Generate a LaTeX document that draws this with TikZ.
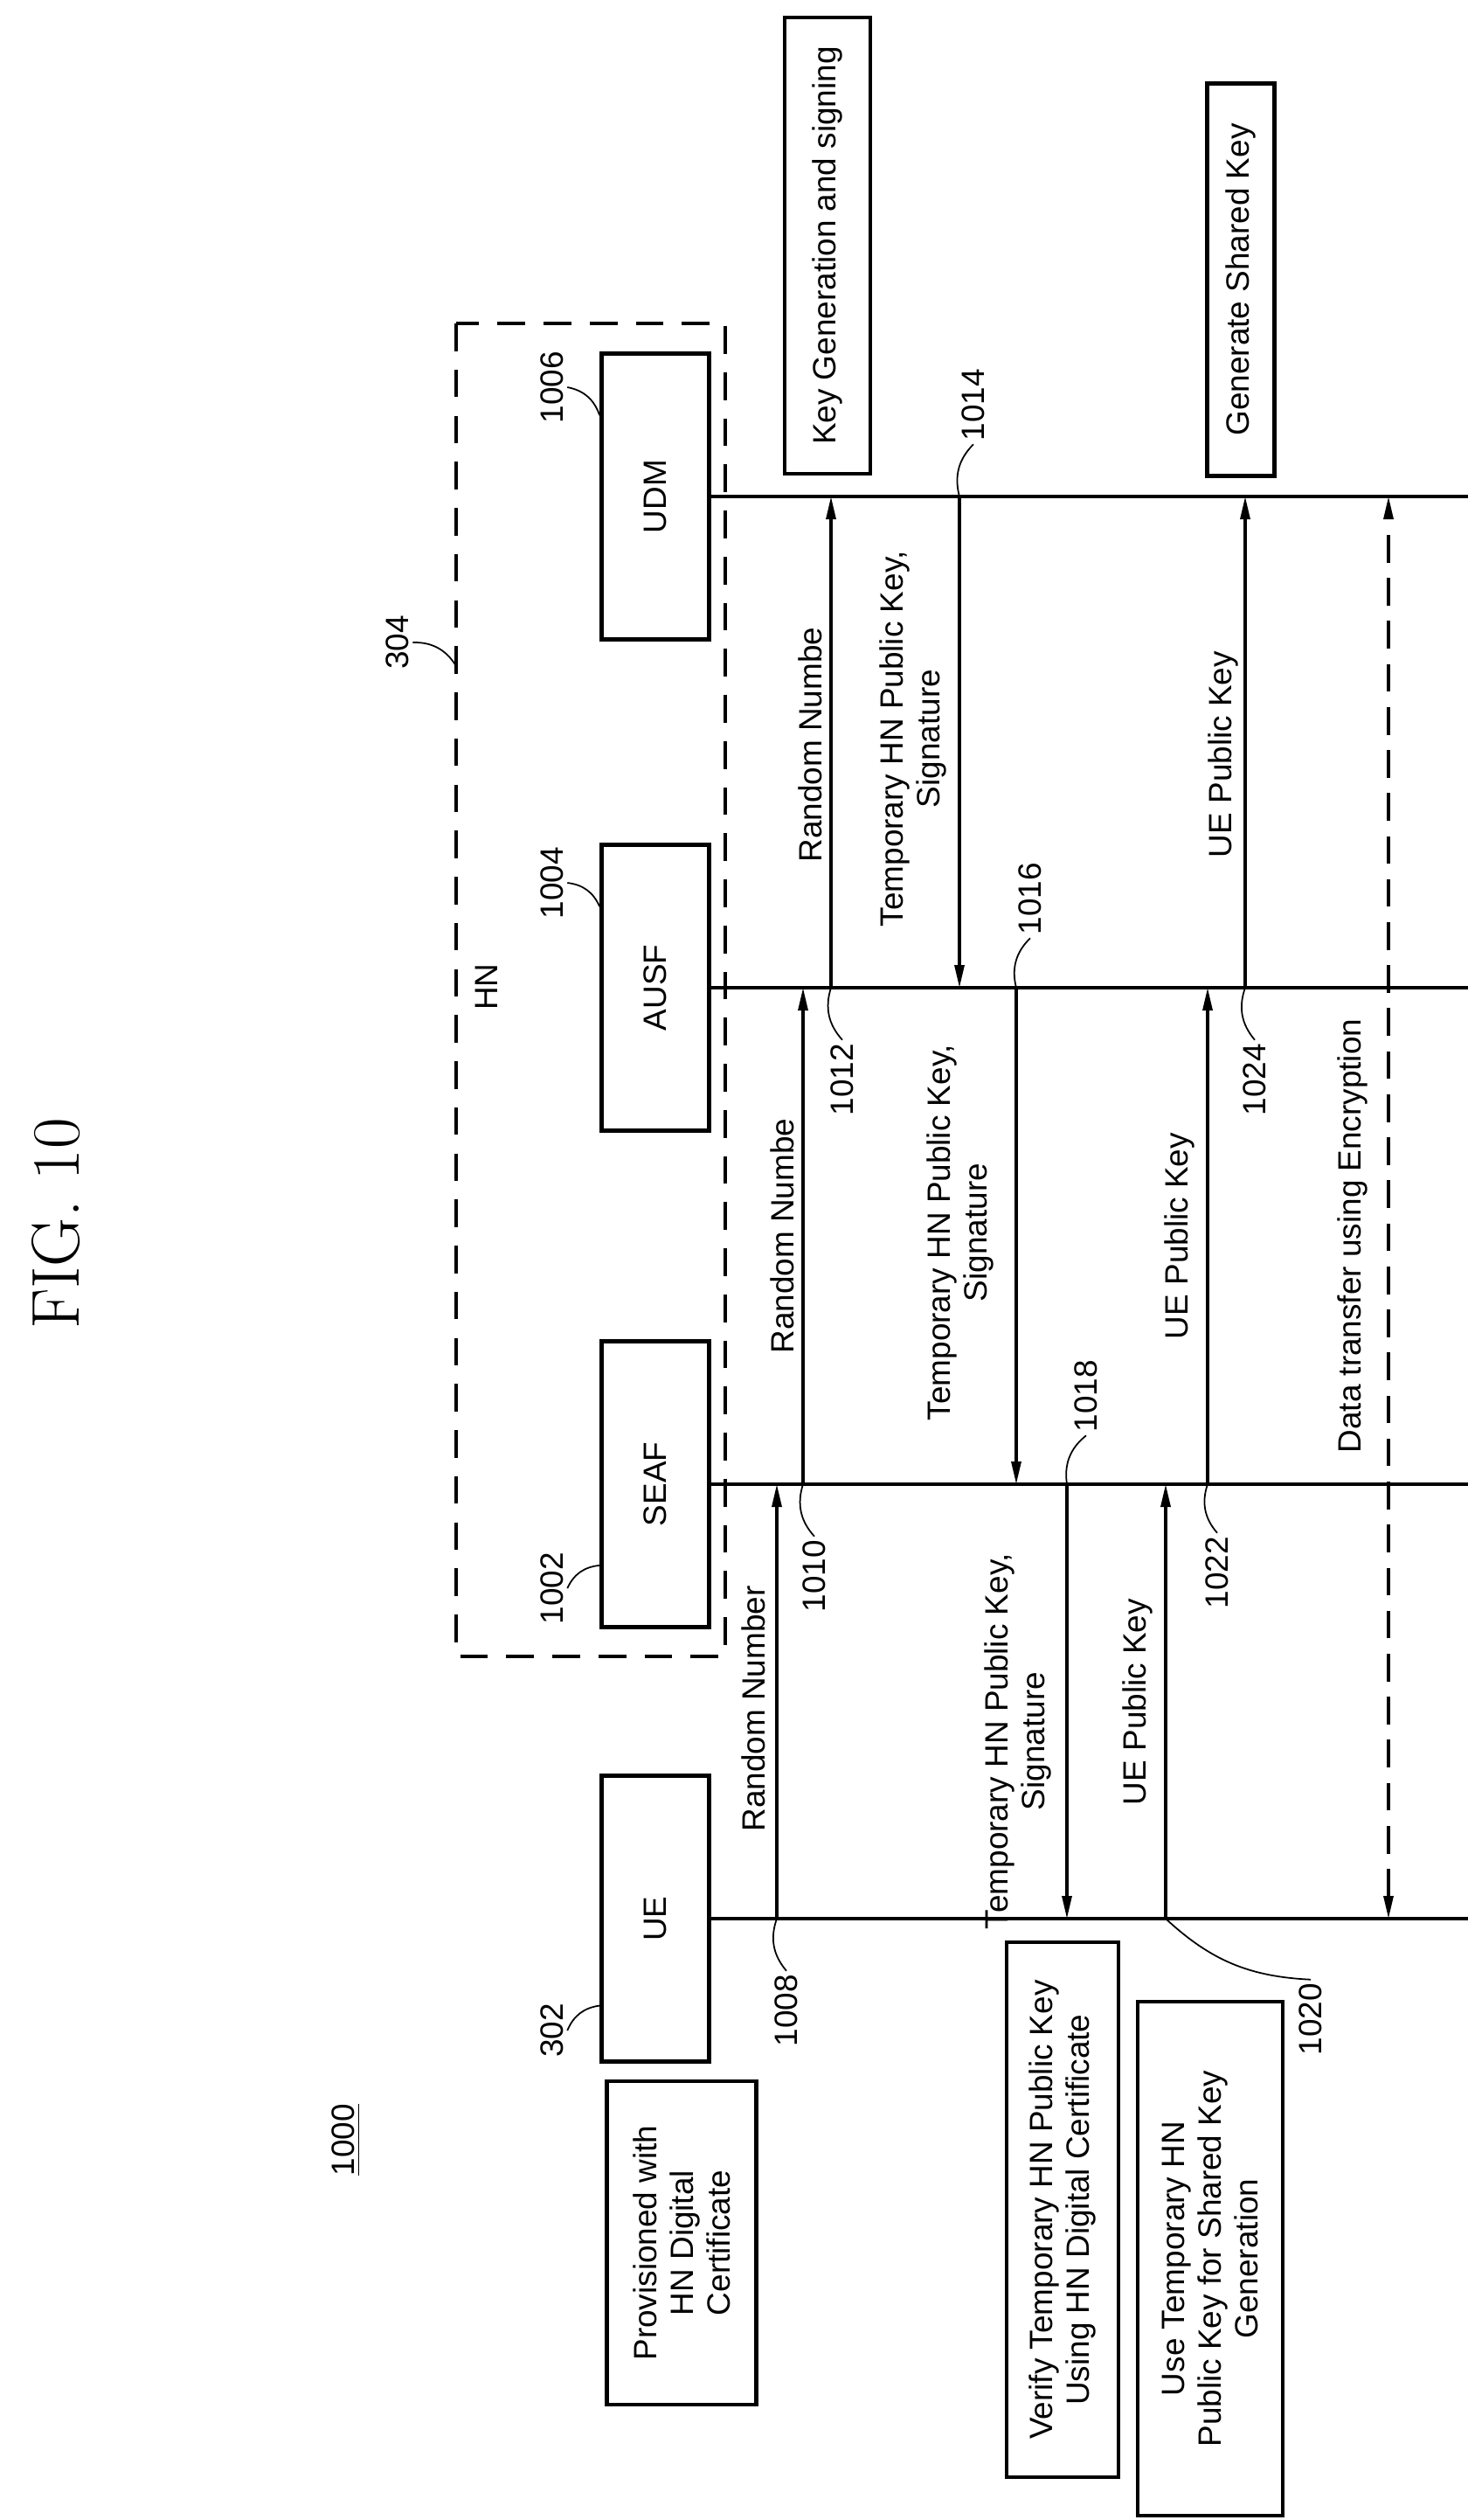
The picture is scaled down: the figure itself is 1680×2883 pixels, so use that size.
\documentclass[tikz,border=0pt]{standalone}
\usepackage{fontspec}
\setsansfont{Liberation Sans}
\usetikzlibrary{arrows.meta,calc}
\begin{document}
\begin{tikzpicture}[
	x=0.01cm, y=-0.01cm,
	every node/.style={font=\sffamily\fontsize{10.5}{12}\selectfont},
	cell/.style={
		draw,
		line width=1.3pt,
		rotate=90,
		minimum width=3.27cm,
		minimum height=1.23cm,
		inner sep=0pt
	},
	note/.style={% boxes with notes beside the lifelines
		draw,
		line width=1.3pt,
		rotate=90,
		align=center,
		inner sep=0pt
	},
	lbl/.style={rotate=90, align=center, inner sep=1pt},
	life/.style={line width=0.9pt},
	msg/.style={line width=0.9pt, -{Triangle[length=0.26cm,width=0.11cm]}},
	lead/.style={line width=0.5pt},
]
	\useasboundingbox (0,0) rectangle (1680,2883);

	\node [rotate=90, font=\rmfamily\fontsize{22}{24}\selectfont] (fig) at (64,1400) {FIG. 10};
	\node [lbl] (n1000) at (396,2448) {\underline{1000}};

	% HN
	\draw [line width=0.9pt, dash pattern=on 9pt off 6pt] (522,370) rectangle (830,1895);
	\coordinate (hnl) at (522,762);
	\node [lbl] (hn) at (557,1129) {HN};
	\node [lbl] (n304) at (455,735) {304};

	\node [cell] (ue) at (750,2195) {UE};
	\node [cell] (seaf) at (750,1698) {SEAF};
	\node [cell] (ausf) at (750,1130) {AUSF};
	\node [cell] (udm) at (750,568) {UDM};

	\node [lbl] (n302) at (632,2323) {302};
	\node [lbl] (n1002) at (632,1817) {1002};
	\node [lbl] (n1004) at (632,1010) {1004};
	\node [lbl] (n1006) at (632,443) {1006};

	\draw [lead] (n304.south) to[bend left=30] (hnl);
	\draw [lead] (n302.south) to[bend left=30] ($(ue.north west)!0.2!(ue.north east)$);
	\draw [lead] (n1002.south) to[bend left=30] ($(seaf.north west)!0.22!(seaf.north east)$);
	\draw [lead] (n1004.south) to[bend left=30] ($(ausf.north west)!0.78!(ausf.north east)$);
	\draw [lead] (n1006.south) to[bend left=30] ($(udm.north west)!0.78!(udm.north east)$);

	% lifelines
	\coordinate (edge) at (1680,0);
	\draw [life] (ue.south) -- (ue.south -| edge);
	\draw [life] (seaf.south) -- (seaf.south -| edge);
	\draw [life] (ausf.south) -- (ausf.south -| edge);
	\draw [life] (udm.south) -- (udm.south -| edge);

	\node [note, minimum width=3.70cm, minimum height=1.71cm] (prov) at (780,2566)
		{Provisioned with\\HN Digital\\Certificate};
	\node [note, minimum width=6.12cm, minimum height=1.28cm] (verify) at (1216,2528)
		{Verify Temporary HN Public Key\\Using HN Digital Certificate};
	\node [note, minimum width=5.88cm, minimum height=1.66cm] (use) at (1385,2584)
		{Use Temporary HN\\Public Key for Shared Key\\Generation};
	\node [note, minimum width=5.22cm, minimum height=0.98cm] (keygen) at (947,281)
		{Key Generation and signing};
	\node [note, minimum width=4.49cm, minimum height=0.77cm] (shared) at (1420,320)
		{Generate Shared Key};

	% messages
	\coordinate (a1) at (889,0);
	\coordinate (a2) at (919,0);
	\coordinate (a3) at (951,0);
	\coordinate (b1) at (1098,0);
	\coordinate (b2) at (1163,0);
	\coordinate (b3) at (1221,0);
	\coordinate (c1) at (1334,0);
	\coordinate (c2) at (1382,0);
	\coordinate (c3) at (1425,0);
	\coordinate (d) at (1589,0);

	\draw [msg] (a1 |- ue) -- (a1 |- seaf);
	\draw [msg] (a2 |- seaf) -- (a2 |- ausf);
	\draw [msg] (a3 |- ausf) -- (a3 |- udm);
	\draw [msg] (b1 |- udm) -- (b1 |- ausf);
	\draw [msg] (b2 |- ausf) -- (b2 |- seaf);
	\draw [msg] (b3 |- seaf) -- (b3 |- ue);
	\draw [msg] (c1 |- ue) -- (c1 |- seaf);
	\draw [msg] (c2 |- seaf) -- (c2 |- ausf);
	\draw [msg] (c3 |- ausf) -- (c3 |- udm);
	\draw [msg, {Triangle[length=0.26cm,width=0.11cm]}-{Triangle[length=0.26cm,width=0.11cm]},
		dash pattern=on 9pt off 5pt] (d |- ue) -- (d |- udm);

	\node [lbl] (rn1) at (862,1955) {Random Number};
	\node [lbl] (rn2) at (895,1414) {Random Numbe};
	\node [lbl] (rn3) at (927,852) {Random Numbe};
	\node [lbl] (tk1) at (1045,845) {Temporary HN Public Key,\\Signature};
	\node [lbl] (tk2) at (1099,1410) {Temporary HN Public Key,\\Signature};
	\node [lbl] (tk3) at (1165,1992) {Temporary HN Public Key,\\Signature};
	\node [lbl] (uk1) at (1302,1947) {UE Public Key};
	\node [lbl] (uk2) at (1350,1414) {UE Public Key};
	\node [lbl] (uk3) at (1400,863) {UE Public Key};
	\node [lbl] (data) at (1548,1414) {Data transfer using Encryption};

	\node [lbl] (n1008) at (900,2300) {1008};
	\node [lbl] (n1010) at (932,1803) {1010};
	\node [lbl] (n1012) at (964,1235) {1012};
	\node [lbl] (n1014) at (1114,463) {1014};
	\node [lbl] (n1016) at (1179,1028) {1016};
	\node [lbl] (n1018) at (1243,1597) {1018};
	\node [lbl] (n1020) at (1500,2310) {1020};
	\node [lbl] (n1022) at (1393,1799) {1022};
	\node [lbl] (n1024) at (1436,1235) {1024};

	\draw [lead] (a1 |- ue) to[bend right=30] (n1008.east);
	\draw [lead] (a2 |- seaf) to[bend right=30] (n1010.east);
	\draw [lead] (a3 |- ausf) to[bend right=30] (n1012.east);
	\draw [lead] (b1 |- udm) to[bend left=30] (n1014.west);
	\draw [lead] (b2 |- ausf) to[bend left=30] (n1016.west);
	\draw [lead] (b3 |- seaf) to[bend left=30] (n1018.west);
	\draw [lead] (c1 |- ue) to[bend right=20] (n1020.east);
	\draw [lead] (c2 |- seaf) to[bend right=30] (n1022.east);
	\draw [lead] (c3 |- ausf) to[bend right=30] (n1024.east);
\end{tikzpicture}
\end{document}
